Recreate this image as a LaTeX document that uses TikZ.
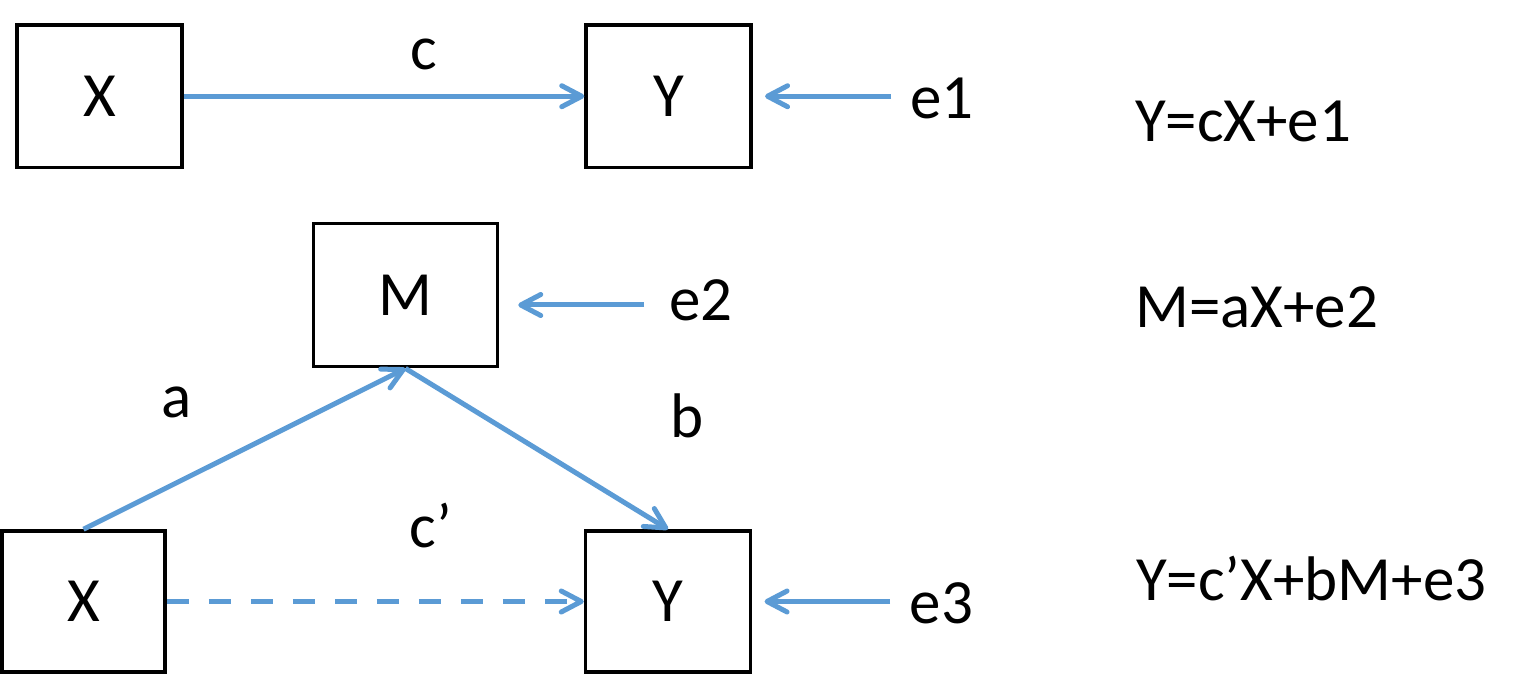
\documentclass[tikz,border=0pt]{standalone}
\usepackage{fontspec}
\setmainfont{Carlito}
\usetikzlibrary{arrows.meta}
\definecolor{lnblue}{RGB}{91,155,213}
\begin{document}
\begin{tikzpicture}[x=1pt,y=-1pt,
  box/.style={draw=black,line width=3.5pt,rectangle,inner sep=0pt,font=\fontsize{63}{76}\selectfont},
  lbl/.style={inner sep=0pt,anchor=base,font=\fontsize{63}{76}\selectfont},
  eqn/.style={inner sep=0pt,anchor=base west,font=\fontsize{63}{76}\selectfont},
  arr/.style={draw=lnblue,line width=5pt,-{Straight Barb[length=20pt,width=21pt,round]}},
  dashedarr/.style={arr,dash pattern=on 22pt off 20pt}
]
\useasboundingbox (0,0) rectangle (1534,676);
% boxes
\node[box,minimum width=165pt,minimum height=142.5pt] (X1) at (99.5,96.25) {X};
\node[box,minimum width=165pt,minimum height=142.5pt] (Y1) at (668.5,96.25) {Y};
\node[box,minimum width=184pt,minimum height=143pt] (M) at (405.5,295.2) {M};
\node[box,minimum width=163pt,minimum height=141pt] (X2) at (83.5,601.5) {X};
\node[box,minimum width=165pt,minimum height=141pt] (Y2) at (668,601.5) {Y};
% labels
\node[lbl] (c) at (424,70) {c};
\node[lbl] (e1) at (942,119) {e1};
\node[eqn] (eq1) at (1135,142) {Y=cX+e1};
\node[lbl] (e2) at (701,320) {e2};
\node[eqn] (eq2) at (1135,327) {M=aX+e2};
\node[lbl] (a) at (177,417) {a};
\node[lbl] (b) at (687,437) {b};
\node[lbl] (cp) at (431,547) {c’};
\node[lbl] (e3) at (941.5,623) {e3};
\node[eqn] (eq3) at (1136,600) {Y=c’X+bM+e3};
% free ends of error arrows
\coordinate (t1) at (891,96.25);
\coordinate (t2) at (644,305);
\coordinate (t3) at (890,601.5);
% connectors
\draw[arr] (X1.east) -- (Y1.west);
\draw[arr,shorten >=12.3pt] (t1) -- (t1 -| Y1.east);
\draw[arr,shorten >=19pt] (t2) -- (t2 -| M.east);
\draw[arr,shorten >=12.3pt] (t3) -- (t3 -| Y2.east);
\draw[arr] (X2.north) -- (M.south);
\draw[arr] (M.south) -- (Y2.north);
\draw[dashedarr] (X2.east) -- (Y2.west);
\end{tikzpicture}
\end{document}
